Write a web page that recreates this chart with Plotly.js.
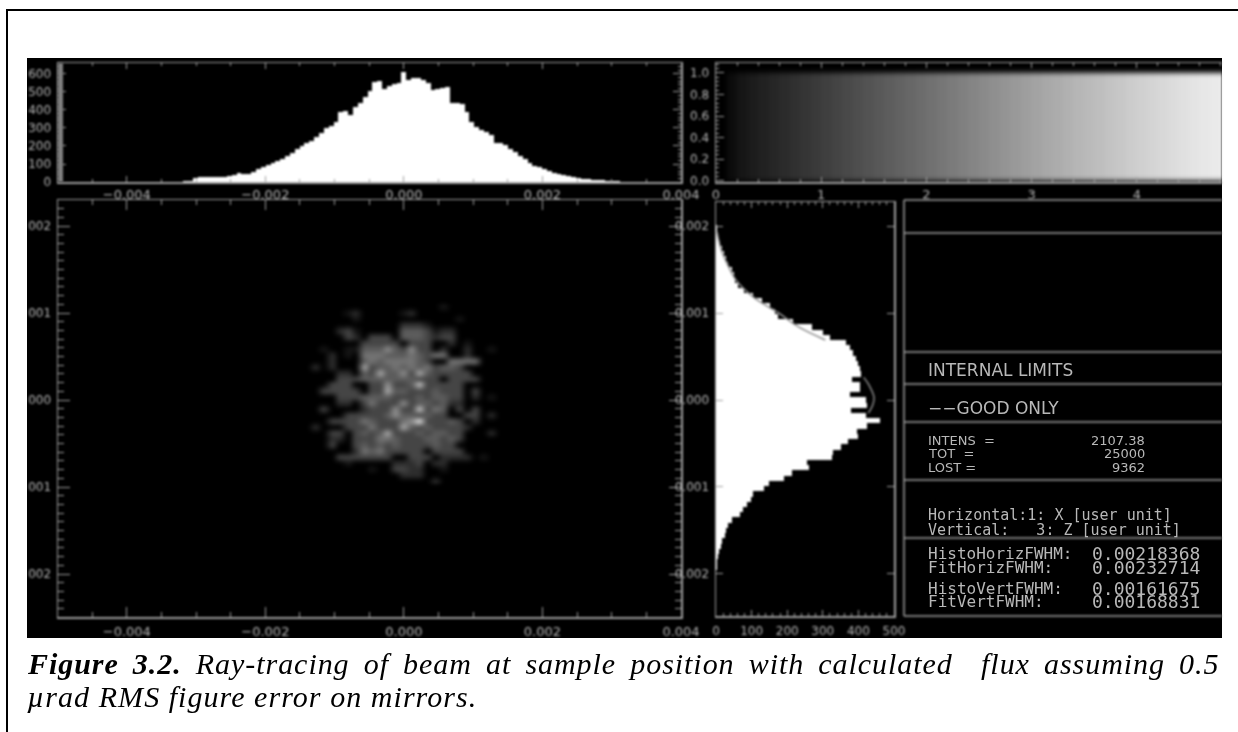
<!DOCTYPE html>
<html><head><meta charset="utf-8">
<script src="https://cdn.plot.ly/plotly-3.0.1.min.js"></script>
<style>
html,body{margin:0;padding:0;background:#fff}
#chart{width:1238px;height:732px}
.cartesianlayer,.layer-above .shapelayer{filter:blur(.8px)}
.hm image{filter:blur(1.5px)}
.subplot.x4y4 .hm image{filter:blur(2.4px)}
.annotation:not([data-index="0"]):not([data-index="1"]){filter:blur(.7px)}
.annotation[data-index="0"] text{letter-spacing:.95px;word-spacing:5.7px}
.annotation[data-index="1"] text{letter-spacing:1.05px}
</style></head><body><div id="chart"></div>
<script>
// ---------- data ----------
const topStart=-0.00322, topStep=0.00007;
const topCounts=[2,3,8,22,28,30,28,26,28,30,34,40,50,46,44,58,74,82,92,106,116,128,146,162,182,198,214,230,248,272,298,312,334,388,392,372,415,440,470,505,555,560,515,535,545,552,612,566,576,576,566,552,511,518,522,526,440,440,433,390,335,307,289,280,261,218,215,204,181,167,144,126,104,89,81,70,59,52,44,37,31,26,22,18,15,13,11,9,7,4,3,1];
const rightStart=-0.00198, rightStep=0.00006;
const rightCounts=[1,3,4,6,9,13,18,24,28,35,45,68,76,88,98,105,135,148,190,213,262,255,325,330,350,370,400,395,425,461,420,378,423,420,376,405,404,382,408,404,400,392,385,376,365,320,300,270,215,175,165,152,128,104,78,62,52,50,44,35,28,22,16,11,7,4,2,1];
const fitPos=[0.00193,0.00172,0.00157,0.00138,0.00118,0.00100,0.00084,0.00069,null,0.00026,0.00017,0.00003,-0.00006,-0.00015];
const fitCounts=[3,15,31,56,106,176,232,307,null,415,430,444,440,428];
const grayLevels=[0,12,22,28,33,38,43,48,53,58,63,68,73,78,83,88,93,98,103,108,113,118,123,128,133,138,143,148,153,158,163,168,172,177,182,186,190,195,199,204,208,212,216,220,224,228,231,234,236];
const grayRowEdges=[0,0.5,1];
const blobX=[-0.00151,-0.00139,-0.00128,-0.00116,-0.00104,-0.00093,-0.00081,-0.00070,-0.00058,-0.00047,-0.00035,-0.00024,-0.00012,-0.00001,0.00011,0.00022,0.00034,0.00045,0.00057,0.00068,0.00080,0.00092,0.00103,0.00115,0.00126,0.00138,0.00149];
const blobY=[0.00107,0.00100,0.00093,0.00087,0.00080,0.00073,0.00066,0.00059,0.00052,0.00045,0.00038,0.00031,0.00024,0.00018,0.00011,0.00004,-0.00003,-0.00010,-0.00017,-0.00024,-0.00031,-0.00038,-0.00044,-0.00051,-0.00058,-0.00065,-0.00072,-0.00079,-0.00086,-0.00093];
const blobZ=[
[0,0,0,0,0,0,0,0,0,0,0,0,0,0,0,0,0,0,1,0,0,0,0,0,0,0,0],
[0,0,0,0,0,0,1,2,0,0,0,0,0,1,2,0,0,0,0,0,0,0,0,0,0,0,0],
[0,0,0,0,0,0,0,1,0,0,0,0,0,0,0,0,0,0,0,0,1,0,0,0,0,0,0],
[0,0,0,0,0,0,0,0,0,0,0,0,0,2,2,2,1,0,0,0,0,0,0,0,0,0,0],
[0,0,0,0,0,2,3,1,0,0,0,0,0,4,4,4,3,1,2,2,0,0,0,0,0,0,0],
[0,0,0,0,0,0,3,2,0,3,3,3,0,4,4,4,3,2,3,3,0,0,0,0,0,0,0],
[0,0,0,0,0,0,0,0,3,3,3,3,3,0,3,3,3,0,0,2,0,1,0,0,0,0,0],
[0,0,0,1,0,0,1,1,4,4,4,6,4,3,6,3,3,0,2,0,0,2,0,0,1,0,0],
[0,0,0,0,2,0,1,0,5,5,5,4,4,4,5,4,3,5,5,0,0,2,0,0,0,0,0],
[0,0,0,0,2,0,0,0,4,5,4,5,5,5,5,4,3,0,0,5,5,5,5,0,0,0,0],
[0,0,2,0,2,0,0,0,7,3,4,4,5,4,5,4,5,3,4,4,3,0,0,0,0,0,0],
[0,0,0,0,0,2,2,0,4,3,7,4,4,6,3,7,4,3,3,3,3,3,0,0,0,0,0],
[0,0,0,0,0,3,3,3,4,4,4,4,4,4,4,3,3,3,0,3,3,3,3,0,0,0,0],
[0,0,0,0,3,3,3,0,0,3,3,6,3,3,4,8,3,3,3,3,3,0,0,0,0,0,0],
[0,0,0,3,3,3,3,3,0,3,3,7,4,4,3,3,3,4,3,3,3,0,3,0,0,0,0],
[0,0,0,0,0,3,3,3,4,4,4,4,3,3,3,4,3,4,4,3,3,0,2,0,1,0,0],
[0,0,0,0,0,2,2,0,3,5,3,3,3,6,3,4,4,3,4,2,2,0,0,0,0,0,0],
[0,0,0,3,0,0,0,0,2,3,3,3,6,3,3,8,3,5,4,0,3,0,3,0,0,0,0],
[0,0,0,0,0,0,3,3,3,3,3,4,6,4,4,3,4,3,3,0,0,3,3,0,2,0,0],
[0,0,0,0,3,3,3,3,5,4,3,3,3,5,6,9,3,3,3,4,3,0,2,0,0,0,0],
[0,0,2,0,0,0,3,3,3,5,3,3,3,7,4,3,4,3,3,3,3,2,0,0,0,0,0],
[0,0,0,0,3,3,0,3,4,3,4,7,3,3,3,4,3,4,4,3,3,0,0,0,2,0,0],
[0,0,0,0,2,2,0,3,3,3,5,5,4,3,3,3,4,4,3,4,3,0,0,0,0,0,0],
[0,0,0,0,3,0,0,3,4,3,4,3,4,3,3,3,3,4,3,3,0,0,0,0,0,0,0],
[0,0,0,0,0,0,0,2,5,4,5,3,3,3,3,3,0,3,3,3,3,0,0,0,0,0,0],
[0,0,0,0,0,3,3,3,3,3,3,3,0,0,3,3,3,0,2,2,2,2,0,1,0,0,0],
[0,0,0,0,0,0,1,0,0,0,0,0,2,2,2,3,0,2,2,0,0,0,0,0,0,0,0],
[0,0,0,0,0,0,0,0,0,1,0,0,3,3,2,2,0,0,1,0,0,0,0,0,0,0,0],
[0,0,0,0,0,0,0,0,0,0,0,0,0,2,2,2,0,0,0,0,0,0,0,0,0,0,0],
[0,0,0,0,0,0,0,0,0,0,0,0,0,0,0,0,0,2,0,0,0,0,0,0,0,0,0]];
const sideTickVals=[0.002,0.001,0,-0.001,-0.002];
const mainSideLabels=['002','001','000','001','002'];
const rightSideLabels=['0.002','0.001','0.000','-0.001','-0.002'];
const beamTickVals=[-0.004,-0.002,0,0.002,0.004];
const beamTickText=['\u22120.004','\u22120.002','0.000','0.002','0.004'];
const captionLine1='<b><i>Figure 3.2.</i></b><i> Ray-tracing of beam at sample position with calculated \u00a0flux assuming 0.5</i>';
const captionLine2='<i>\u00b5rad RMS figure error on mirrors.</i>';
const headingTexts=['INTERNAL LIMITS','\u2212\u2212GOOD ONLY'];
const statNames=['INTENS  =','TOT  =','LOST ='];
const statValues=['2107.38','25000','9362'];
const coordTexts=['Horizontal:1: X [user unit]','Vertical:   3: Z [user unit]'];
const fwhmNames=['HistoHorizFWHM:','FitHorizFWHM:','HistoVertFWHM:','FitVertFWHM:'];
const fwhmValues=['0.00218368','0.00232714','0.00161675','0.00168831'];

// ---------- page geometry (pixels in the 1238x732 window) ----------
const W=1238,H=732;
const fx=p=>p/W, fy=p=>1-p/H;
const axisGray='#a0a0a0', textGray='#b8b8b8';
const xFont={family:'DejaVu Sans',size:13,color:textGray}, yFont={family:'DejaVu Sans',size:12,color:textGray};
const base={showgrid:false,zeroline:false,showline:true,linecolor:axisGray,linewidth:1.5,
  ticks:'inside',tickcolor:axisGray,tickwidth:1,tickfont:yFont,
  ticklabelstandoff:3,mirror:'ticks',fixedrange:true};
const minor=(d,l)=>({dtick:d,ticks:'inside',ticklen:l,tickcolor:axisGray,tickwidth:1,showgrid:false});

const traces=[
 {type:'heatmap',x:blobX,y:blobY,z:blobZ,zsmooth:'best',zmin:0,zmax:9,showscale:false,hoverinfo:'skip',
  colorscale:[[0,'#000000'],[0.12,'#181818'],[0.34,'#464646'],[0.6,'#7e7e7e'],[1,'#e4e4e4']],xaxis:'x',yaxis:'y'},
 {type:'bar',x0:topStart,dx:topStep,y:topCounts,width:topStep,marker:{color:'#ffffff',line:{width:0}},xaxis:'x2',yaxis:'y2',hoverinfo:'skip'},
 {type:'bar',orientation:'h',x:rightCounts,y0:rightStart,dy:rightStep,width:rightStep,marker:{color:'#ffffff',line:{width:0}},xaxis:'x3',yaxis:'y3',hoverinfo:'skip'},
 {type:'scatter',mode:'lines',x:fitCounts,y:fitPos,line:{color:'#8c8c8c',width:1.5,shape:'spline'},connectgaps:false,xaxis:'x3',yaxis:'y3',hoverinfo:'skip'},
 {type:'heatmap',x0:0.05,dx:0.1,y:grayRowEdges,z:[grayLevels,grayLevels],zmin:0,zmax:255,showscale:false,hoverinfo:'skip',
  colorscale:[[0,'#000000'],[1,'#ffffff']],xaxis:'x4',yaxis:'y4'}
];

const beamRange=[-0.004993,0.0040002];
const layout={
 width:W,height:H,margin:{l:0,r:0,t:0,b:0},paper_bgcolor:'#ffffff',plot_bgcolor:'#000000',showlegend:false,bargap:0,
 xaxis:{...base,tickfont:xFont,domain:[fx(58),fx(681)],range:beamRange,tickmode:'array',tickvals:beamTickVals,ticktext:beamTickText,ticklen:10,ticklabelstandoff:2,minor:minor(0.0005,5),anchor:'y'},
 yaxis:{...base,domain:[fy(617),fy(200)],range:[-0.002494,0.002299],tickmode:'array',tickvals:sideTickVals,ticktext:mainSideLabels,ticklen:12,minor:minor(0.0001,6),anchor:'x'},
 xaxis2:{...base,tickfont:xFont,domain:[fx(58),fx(681)],range:beamRange,tickmode:'array',tickvals:beamTickVals,ticktext:beamTickText,ticklen:6,ticklabelstandoff:0,minor:minor(0.0005,3),anchor:'y2'},
 yaxis2:{...base,domain:[fy(182),fy(63)],range:[0,661],tickvals:[0,100,200,300,400,500,600],ticklen:8,minor:minor(20,3),anchor:'x2'},
 xaxis3:{...base,tickfont:{...xFont,size:12},domain:[fx(716),fx(894)],range:[0,500],tickvals:[0,100,200,300,400,500],ticklen:6,ticklabelstandoff:3,minor:minor(20,3),anchor:'y3'},
 yaxis3:{...base,domain:[fy(616),fy(202)],range:[-0.002483,0.002276],tickmode:'array',tickvals:sideTickVals,ticktext:rightSideLabels,ticklen:7,anchor:'x3'},
 xaxis4:{...base,tickfont:xFont,domain:[fx(716),fx(1222)],range:[0,4.81],tickvals:[0,1,2,3,4],ticklen:5,ticklabelstandoff:0,minor:minor(0.2,3),anchor:'y4'},
 yaxis4:{...base,mirror:false,domain:[fy(182),fy(63)],range:[-0.01,1.09],tickvals:[0,0.2,0.4,0.6,0.8,1],tickformat:'.1f',ticklen:8,minor:minor(0.04,3),anchor:'x4'},
 shapes:[],annotations:[]
};
const pxShape=(x0,y0,x1,y1,color,w)=>({type:'line',xref:'paper',yref:'paper',x0:fx(x0),y0:fy(y0),x1:fx(x1),y1:fy(y1),line:{color:color,width:w}});
layout.shapes.push({type:'rect',xref:'paper',yref:'paper',x0:fx(27),x1:fx(1222),y0:fy(638),y1:fy(58),fillcolor:'#000',line:{width:0},layer:'below'});
[200,233,352,384,422,480,538,616].forEach(y=>layout.shapes.push(pxShape(904,y,1222,y,axisGray,1.5)));
layout.shapes.push(pxShape(904,200,904,616,axisGray,1.5));
layout.shapes.push({type:'rect',xref:'paper',yref:'paper',x0:fx(58),x1:fx(63),y0:fy(182),y1:fy(63),fillcolor:'#808080',line:{width:0}});

const note=(text,x,y,size,family,anchor,color)=>layout.annotations.push({text:text,xref:'paper',yref:'paper',x:fx(x),y:fy(y),
  xanchor:anchor||'left',yanchor:'middle',showarrow:false,align:'left',font:{family:family,size:size,color:color||textGray}});
// caption first (indices 0 and 1 stay sharp)
note(captionLine1,25,663,30,'Liberation Serif','left','#000');
note(captionLine2,25,696,30,'Liberation Serif','left','#000');
const sans='DejaVu Sans', mono='DejaVu Sans Mono';
note(headingTexts[0],926,370,17,sans);
note(headingTexts[1],926,408,17,sans);
[440,453,467].forEach((y,i)=>{note(statNames[i],926,y,13,sans);note(statValues[i],1147,y,13,sans,'right');});
[515,530].forEach((y,i)=>note(coordTexts[i],926,y,15,mono));
[553,567,588,601].forEach((y,i)=>{note(fwhmNames[i],926,y,16,mono);note(fwhmValues[i],1202,y,18,mono,'right');});

Plotly.newPlot('chart',traces,layout,{displayModeBar:false,staticPlot:true});
</script>
<div style="position:absolute;left:6px;top:9px;right:0;bottom:0;border-left:2.5px solid #000;border-top:2.5px solid #000;pointer-events:none"></div>
</body></html>
